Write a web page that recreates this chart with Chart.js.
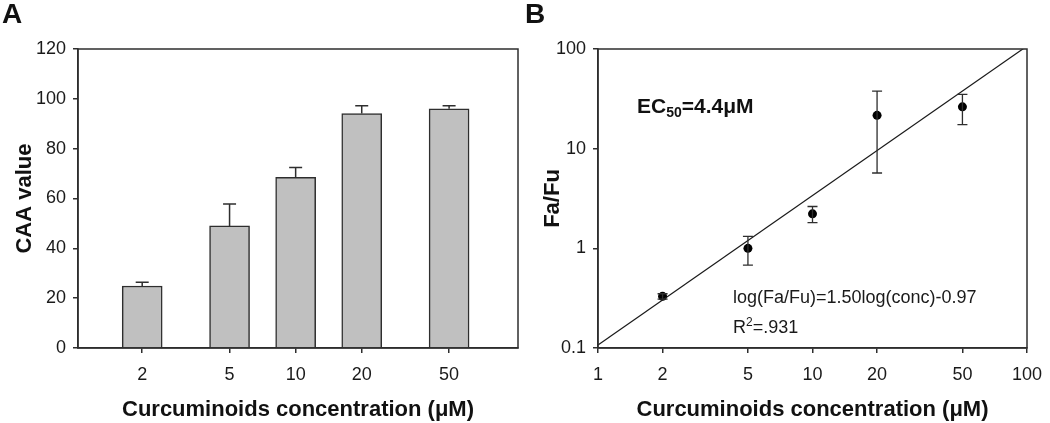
<!DOCTYPE html>
<html>
<head>
<meta charset="utf-8">
<script src="https://cdn.jsdelivr.net/npm/chart.js@4.4.1/dist/chart.umd.min.js"></script>
<style>
  body { margin: 0; background: #fff; }
  canvas { position: absolute; top: 0; }
  #caaChart { left: 0; }
  #faChart { left: 520px; }
</style>
</head>
<body>
<canvas id="caaChart" width="520" height="423"></canvas>
<canvas id="faChart" width="530" height="423"></canvas>
<script>
// values
const concentrations = [2, 5, 10, 20, 50];
const caaValues = [24.9, 49.0, 68.5, 94.1, 96.0];
const caaErrors = [1.5, 8.8, 3.9, 3.1, 1.2];
const caaTicks = [0, 20, 40, 60, 80, 100, 120];

const faFu = [0.33, 1.0, 2.22, 21.6, 26.3];
const faFuHigh = [0.35, 1.32, 2.63, 37.8, 35.0];
const faFuLow = [0.31, 0.68, 1.81, 5.7, 17.4];
const fitConc = [1, 100];
const fitFaFu = [0.107, 107];
const concTicks = [1, 2, 5, 10, 20, 50, 100];
const faFuTicks = [0.1, 1, 10, 100];

const FONT = '"Liberation Sans", Arial, sans-serif';
const INK = '#2e2e2e';
Chart.defaults.font.family = FONT;
Chart.defaults.color = '#1a1a1a';
Chart.defaults.animation = false;

// axis with fixed tick list, outward tick marks, no grid
function tickAxis(values, pad, size, extra) {
    return Object.assign({
        afterBuildTicks: s => { s.ticks = values.map(v => ({ value: v })); },
        afterFit: s => {
            if (s.isHorizontal()) s.height = size; else s.width = size;
            // end labels may hang over the plot edge, the layout padding covers them
            s.paddingLeft = s.paddingRight = 0;
        },
        ticks: { autoSkip: false, maxRotation: 0, padding: pad, font: { size: 18 }, callback: v => String(v) },
        grid: { drawOnChartArea: false, offset: false, tickLength: 5, color: INK, lineWidth: 1.5 },
        border: { color: INK, width: 1.5 }
    }, extra);
}

function axisTitle(text, padding) {
    return { display: true, text: text, color: '#111', font: { size: 22, weight: 'bold' }, padding: padding };
}

// box round the plot + panel letter
function framePlugin(letter, lx) {
    return {
        id: 'frame' + letter,
        afterDraw(chart) {
            const { ctx, chartArea: a } = chart;
            ctx.save();
            ctx.strokeStyle = INK;
            ctx.lineWidth = 1.5;
            ctx.strokeRect(a.left, a.top, a.right - a.left, a.bottom - a.top);
            ctx.fillStyle = '#111';
            ctx.font = 'bold 28px ' + FONT;
            ctx.textBaseline = 'alphabetic';
            ctx.fillText(letter, lx, 23);
            ctx.restore();
        }
    };
}

const caaErrorBars = {
    id: 'caaErrorBars',
    afterDatasetsDraw(chart) {
        const { ctx, scales: { x, y } } = chart;
        ctx.save();
        ctx.strokeStyle = INK;
        ctx.lineWidth = 1.5;
        concentrations.forEach((c, i) => {
            const px = x.getPixelForValue(c);
            const top = y.getPixelForValue(caaValues[i] + caaErrors[i]);
            const base = y.getPixelForValue(caaValues[i]);
            ctx.beginPath();
            ctx.moveTo(px, base);
            ctx.lineTo(px, top);
            ctx.moveTo(px - 6.5, top);
            ctx.lineTo(px + 6.5, top);
            ctx.stroke();
        });
        ctx.restore();
    }
};

new Chart(document.getElementById('caaChart'), {
    type: 'bar',
    data: {
        datasets: [{
            data: concentrations.map((c, i) => ({ x: c, y: caaValues[i] })),
            backgroundColor: '#c0c0c0',
            borderColor: INK,
            borderWidth: 1.5,
            barThickness: 40
        }]
    },
    options: {
        responsive: false,
        layout: { padding: { top: 49, right: 2, left: 0, bottom: 0 } },
        plugins: { legend: { display: false }, tooltip: { enabled: false } },
        scales: {
            x: tickAxis(concentrations, 11, 75, {
                type: 'logarithmic', min: 1.02, max: 103, offset: false,
                title: axisTitle('Curcuminoids concentration (μM)', { top: 0, bottom: 0 })
            }),
            y: tickAxis(caaTicks, 7, 78, {
                min: 0, max: 120,
                title: axisTitle('CAA value', { top: 12, bottom: 0 })
            })
        }
    },
    plugins: [caaErrorBars, framePlugin('A', 2)]
});

const faErrorBars = {
    id: 'faErrorBars',
    afterDatasetsDraw(chart) {
        const { ctx, scales: { x, y } } = chart;
        ctx.save();
        ctx.strokeStyle = INK;
        ctx.lineWidth = 1.3;
        concentrations.forEach((c, i) => {
            const px = x.getPixelForValue(c);
            const hi = y.getPixelForValue(faFuHigh[i]);
            const lo = y.getPixelForValue(faFuLow[i]);
            ctx.beginPath();
            ctx.moveTo(px, lo);
            ctx.lineTo(px, hi);
            ctx.moveTo(px - 5, hi);
            ctx.lineTo(px + 5, hi);
            ctx.moveTo(px - 5, lo);
            ctx.lineTo(px + 5, lo);
            ctx.stroke();
        });
        ctx.restore();
    }
};

const faNotes = {
    id: 'faNotes',
    afterDraw(chart) {
        const ctx = chart.ctx;
        ctx.save();
        ctx.fillStyle = '#111';
        ctx.textBaseline = 'alphabetic';
        let x = 117;
        ctx.font = 'bold 21px ' + FONT;
        ctx.fillText('EC', x, 113);
        x += ctx.measureText('EC').width;
        ctx.font = 'bold 14px ' + FONT;
        ctx.fillText('50', x, 117);
        x += ctx.measureText('50').width;
        ctx.font = 'bold 21px ' + FONT;
        ctx.fillText('=4.4μM', x, 113);

        ctx.fillStyle = '#1a1a1a';
        ctx.font = '18px ' + FONT;
        ctx.fillText('log(Fa/Fu)=1.50log(conc)-0.97', 213, 303);
        x = 213;
        ctx.fillText('R', x, 333);
        x += ctx.measureText('R').width;
        ctx.font = '12px ' + FONT;
        ctx.fillText('2', x, 326);
        x += ctx.measureText('2').width;
        ctx.font = '18px ' + FONT;
        ctx.fillText('=.931', x, 333);
        ctx.restore();
    }
};

new Chart(document.getElementById('faChart'), {
    type: 'scatter',
    data: {
        datasets: [{
            data: fitConc.map((c, i) => ({ x: c, y: fitFaFu[i] })),
            showLine: true,
            borderColor: '#1a1a1a',
            borderWidth: 1.2,
            pointRadius: 0
        }, {
            data: concentrations.map((c, i) => ({ x: c, y: faFu[i] })),
            pointRadius: 4.5,
            pointBackgroundColor: '#000',
            pointBorderWidth: 0
        }]
    },
    options: {
        responsive: false,
        layout: { padding: { top: 49, right: 23, left: 0, bottom: 0 } },
        plugins: { legend: { display: false }, tooltip: { enabled: false } },
        scales: {
            x: tickAxis(concTicks, 11, 75, {
                type: 'logarithmic', min: 1, max: 100,
                title: axisTitle('Curcuminoids concentration (μM)', { top: 0, bottom: 0 })
            }),
            y: tickAxis(faFuTicks, 7, 78, {
                type: 'logarithmic', min: 0.1, max: 100,
                title: axisTitle('Fa/Fu', { top: 20, bottom: 0 })
            })
        }
    },
    plugins: [faErrorBars, faNotes, framePlugin('B', 5)]
});
</script>
</body>
</html>
